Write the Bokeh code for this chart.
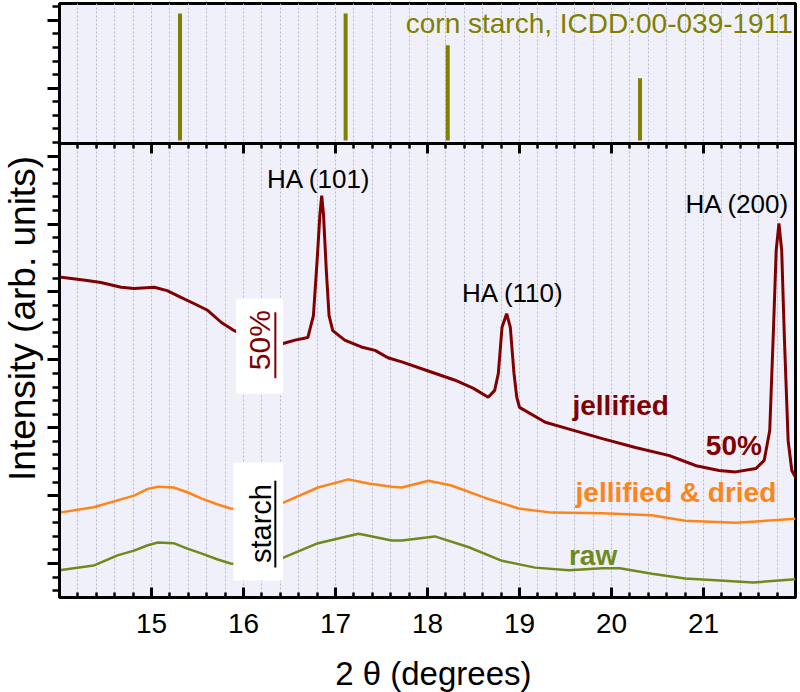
import numpy as np
from bokeh.plotting import figure
from bokeh.layouts import row, column
from bokeh.models import Range1d, LinearAxis, FixedTicker, Label, BoxAnnotation
from bokeh.embed import file_html
from bokeh.resources import INLINE

# ---------------- data ----------------
# reference stick pattern (corn starch, ICDD 00-039-1911)
ref_pos = [15.31, 17.11, 18.22, 20.31]
ref_int = [100, 100, 75, 49]

# starch jellified with 50 % HA
jel50_x = [14.00, 14.30, 14.45, 14.67, 14.81, 15.03, 15.17, 15.32, 15.46, 15.61, 15.76, 15.90,
           16.10, 16.30, 16.43, 16.56, 16.70, 16.76, 16.80, 16.83, 16.85, 16.87, 16.90, 16.93,
           16.97, 17.10, 17.28, 17.43, 17.57, 17.72, 18.00, 18.30, 18.50, 18.66, 18.73, 18.77,
           18.81, 18.86, 18.90, 18.94, 18.97, 19.00, 19.28, 19.54, 19.90, 20.26, 20.63, 20.92,
           21.17, 21.35, 21.57, 21.66, 21.72, 21.76, 21.79, 21.82, 21.85, 21.88, 21.92, 21.96, 22.00]
jel50_y = [5.22, 5.17, 5.14, 5.07, 5.05, 5.07, 5.02, 4.92, 4.83, 4.73, 4.55, 4.43,
           4.31, 4.24, 4.24, 4.29, 4.33, 4.65, 5.46, 6.13, 6.42, 6.13, 5.32, 4.65,
           4.43, 4.29, 4.19, 4.14, 4.03, 3.97, 3.84, 3.70, 3.58, 3.45, 3.55, 3.80,
           4.48, 4.68, 4.48, 3.80, 3.45, 3.30, 3.08, 2.98, 2.84, 2.71, 2.59, 2.44,
           2.37, 2.35, 2.40, 2.52, 2.96, 4.43, 5.61, 6.01, 5.61, 4.29, 2.81, 2.37, 2.27]

# starch jellified & dried
dried_x = [14.00, 14.37, 14.63, 14.81, 14.96, 15.07, 15.24, 15.39, 15.54, 15.72, 15.86, 16.10,
           16.30, 16.44, 16.81, 17.14, 17.36, 17.61, 17.72, 18.01, 18.26, 18.62, 18.99, 19.35,
           19.90, 20.44, 20.80, 21.35, 22.00]
dried_y = [1.75, 1.83, 1.93, 2.00, 2.10, 2.13, 2.12, 2.05, 1.96, 1.87, 1.81, 1.78,
           1.84, 1.90, 2.12, 2.24, 2.18, 2.13, 2.12, 2.22, 2.15, 1.97, 1.81, 1.75,
           1.74, 1.71, 1.63, 1.60, 1.66]

# raw starch
raw_x = [14.00, 14.37, 14.63, 14.81, 14.96, 15.07, 15.24, 15.39, 15.54, 15.72, 15.86, 16.10,
         16.30, 16.44, 16.81, 17.25, 17.36, 17.61, 17.72, 18.08, 18.45, 18.81, 19.17, 19.54,
         19.90, 20.09, 20.44, 20.80, 21.18, 21.54, 22.00]
raw_y = [0.90, 0.97, 1.12, 1.19, 1.27, 1.31, 1.30, 1.22, 1.15, 1.06, 1.00, 0.97,
         1.03, 1.09, 1.30, 1.44, 1.41, 1.34, 1.34, 1.40, 1.24, 1.04, 0.94, 0.90,
         0.93, 0.93, 0.85, 0.78, 0.75, 0.72, 0.77]

x_major_ticks = [15, 16, 17, 18, 19, 20, 21]
x_minor_ticks = [round(14.2 + 0.2 * i, 1) for i in range(39)]
y_major_ticks = [1, 2, 3, 4, 5, 6, 7, 8, 9]
y_minor_ticks = [round(0.6 + 0.2 * i, 1) for i in range(44)]

# ---------------- styling ----------------
RED = "#800000"
ORANGE = "#ff8418"
RAW = "#6e8a1c"
OLIVE = "#7f7f00"
BG = "#f0f0fa"
FONT = "Liberation Sans"

DIVIDER = 7.186   # boundary between reference panel and data panel (main y units)

YLAB_W = 44
P_W = 756
P_H = 653
TOTAL_H = 692

p = figure(width=P_W, height=P_H, output_backend="svg", toolbar_location=None,
           x_range=Range1d(14, 22), y_range=Range1d(0.5, 9.248),
           min_border_left=15, min_border_right=5, min_border_top=3, min_border_bottom=56,
           background_fill_color=BG, border_fill_color="white")
p.extra_y_ranges = {"ref": Range1d(-359.8, 107.9)}

p.outline_line_color = "black"
p.outline_line_width = 3

# grid: dotted vertical lines every 0.2
p.xgrid.ticker = FixedTicker(ticks=x_minor_ticks)
p.xgrid.grid_line_color = "#b8b8c8"
p.xgrid.grid_line_dash = "2 2"
p.xgrid.grid_line_width = 1
p.ygrid.visible = False

# bottom axis
xt = FixedTicker(ticks=x_major_ticks, minor_ticks=x_minor_ticks)
xa = p.xaxis[0]
xa.ticker = xt
xa.major_tick_in = 10
xa.major_tick_out = 0
xa.minor_tick_in = 5
xa.minor_tick_out = 0
xa.axis_line_width = 3
xa.major_tick_line_width = 3
xa.minor_tick_line_width = 2.5
xa.major_label_text_font = FONT
xa.major_label_text_font_size = "28px"
xa.major_label_text_color = "black"
xa.major_label_standoff = 16

# left axis (ticks only)
ya = p.yaxis[0]
ya.ticker = FixedTicker(ticks=y_major_ticks, minor_ticks=y_minor_ticks)
ya.major_tick_in = 0
ya.major_tick_out = 12
ya.minor_tick_in = 0
ya.minor_tick_out = 7
ya.axis_line_width = 3
ya.major_tick_line_width = 3
ya.minor_tick_line_width = 2.5
ya.major_label_standoff = 0
ya.major_label_overrides = {t: "" for t in y_major_ticks}
ya.major_label_text_color = None

# divider axis between the two panels (ticks pointing into the data panel)
div_axis = LinearAxis(fixed_location=DIVIDER, ticker=xt,
                      major_tick_in=10, major_tick_out=0, minor_tick_in=5, minor_tick_out=0,
                      axis_line_width=3, major_tick_line_width=3, minor_tick_line_width=2.5,
                      major_label_text_color=None)
p.add_layout(div_axis, "above")

# reference sticks
p.segment(x0=ref_pos, y0=[0] * len(ref_pos), x1=ref_pos, y1=ref_int,
          y_range_name="ref", line_color=OLIVE, line_width=4)

# curves
p.line(raw_x, raw_y, line_color=RAW, line_width=2.5)
p.line(dried_x, dried_y, line_color=ORANGE, line_width=2.5)
p.line(jel50_x, jel50_y, line_color=RED, line_width=3)


def lab(fig, x, y, text, color="black", size="26px", style="normal", align="center",
        angle=0.0, y_range_name="default"):
    fig.add_layout(Label(x=x, y=y, text=text, text_color=color, text_font=FONT,
                         text_font_size=size, text_font_style=style, text_align=align,
                         text_baseline="middle", angle=angle, y_range_name=y_range_name))


lab(p, 21.97, 92.1, "corn starch, ICDD:00-039-1911", color=OLIVE, size="28px",
    align="right", y_range_name="ref")
lab(p, 16.82, 6.67, "HA (101)")
lab(p, 18.93, 4.98, "HA (110)")
lab(p, 21.37, 6.29, "HA (200)")
lab(p, 20.10, 3.33, "jellified", color=RED, size="28px", style="bold")
lab(p, 21.33, 2.74, "50%", color=RED, size="28px", style="bold")
lab(p, 20.70, 2.05, "jellified & dried", color=ORANGE, size="28px", style="bold")
lab(p, 19.80, 1.12, "raw", color=RAW, size="28px", style="bold")

# rotated boxed labels
p.add_layout(BoxAnnotation(left=15.92, right=16.43, bottom=3.50, top=4.90,
                           fill_color="white", fill_alpha=1.0, line_color=None))
lab(p, 16.17, 4.29, "50%", color=RED, size="30px", angle=np.pi / 2)
p.add_layout(BoxAnnotation(left=16.335, right=16.357, bottom=3.73, top=4.70,
                           fill_color=RED, fill_alpha=1.0, line_color=None))

p.add_layout(BoxAnnotation(left=15.89, right=16.43, bottom=0.75, top=2.49,
                           fill_color="white", fill_alpha=1.0, line_color=None))
lab(p, 16.19, 1.59, "starch", color="black", size="29px", angle=np.pi / 2)
p.add_layout(BoxAnnotation(left=16.335, right=16.357, bottom=0.94, top=2.22,
                           fill_color="black", fill_alpha=1.0, line_color=None))


def blank(w, h):
    f = figure(width=w, height=h, output_backend="svg", toolbar_location=None,
               x_range=Range1d(0, w), y_range=Range1d(0, h),
               x_axis_type=None, y_axis_type=None, min_border=0,
               background_fill_color="white", border_fill_color="white")
    f.outline_line_color = None
    f.xgrid.visible = False
    f.ygrid.visible = False
    return f


# y-axis title panel
yfig = blank(YLAB_W, TOTAL_H)
lab(yfig, 22, TOTAL_H - 318, "Intensity (arb. units)", size="37px", angle=np.pi / 2)

# x-axis title panel
XT_H = TOTAL_H - P_H
xfig = blank(P_W, XT_H)
lab(xfig, 428 - YLAB_W, 19, "2 θ (degrees)", size="33px")

layout = row(yfig, column(p, xfig))

open("out.html", "w").write(file_html(layout, INLINE))
